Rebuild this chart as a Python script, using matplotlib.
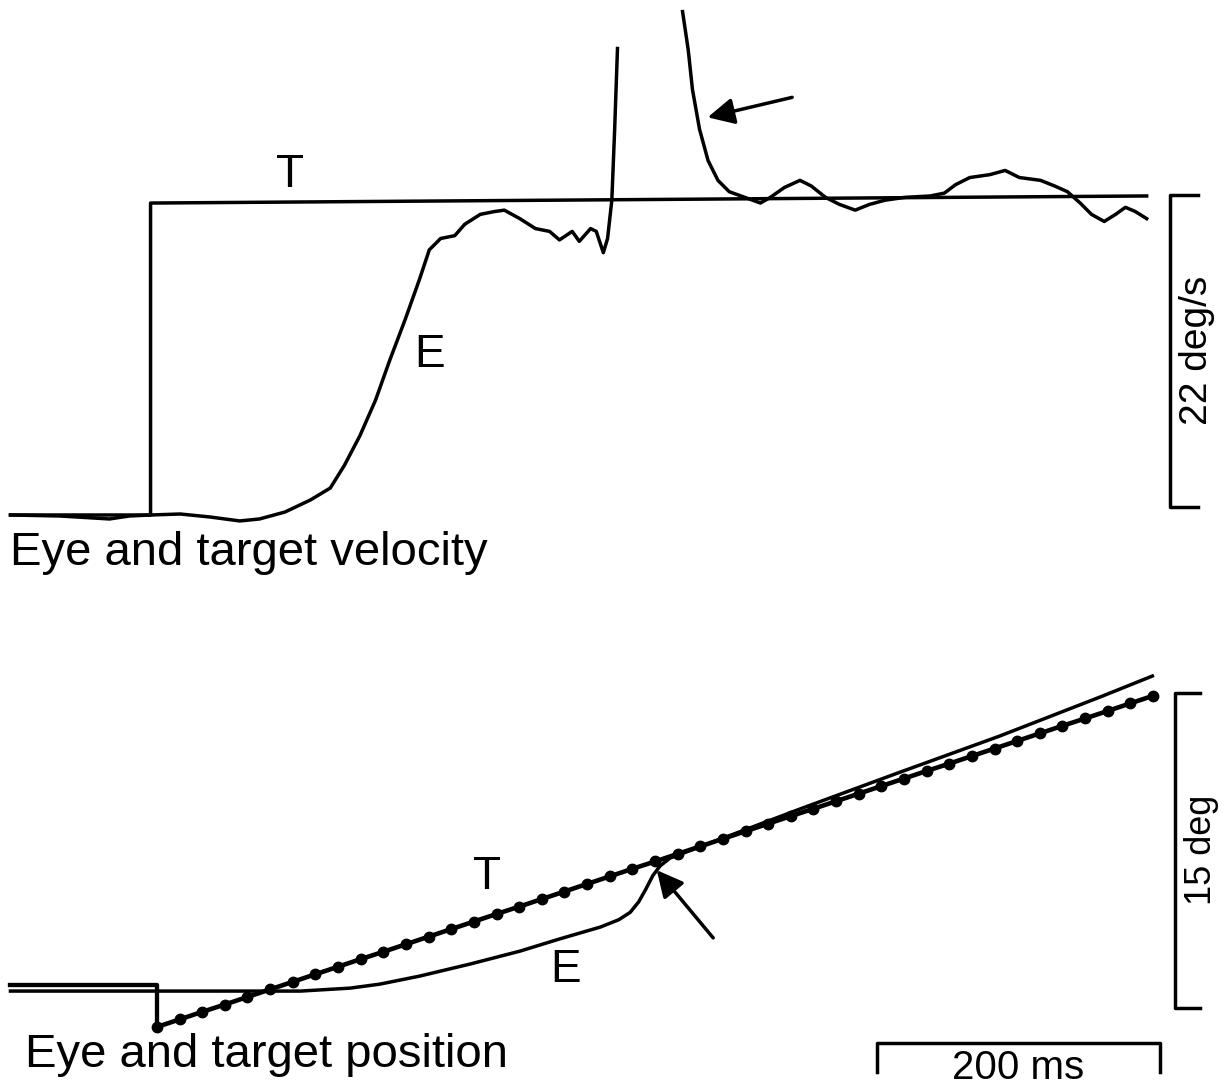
import numpy as np
import matplotlib
matplotlib.use("Agg")
import matplotlib.pyplot as plt

plt.rcParams["font.family"] = ["Liberation Sans", "DejaVu Sans"]

# ---- top panel: velocity (ms, deg/s) ----
target_vel_t = [-100, -1, -1, 703]
target_vel_v = [0.0, 0.0, 22.0, 22.5]

# eye velocity before the saccade
eye_vel_t1 = [-100, -65, -30, -16, -1, 20, 41, 62, 76, 94, 112, 126, 136, 147, 158, 168,
              179, 189, 196, 204, 214, 221, 232, 242, 249, 260, 271, 281, 288, 297, 302,
              310, 314, 319, 322, 325, 327, 329]
eye_vel_v1 = [0.0, -0.07, -0.28, -0.07, 0.0, 0.07, -0.14, -0.42, -0.28, 0.21, 1.06, 1.9,
              3.5, 5.6, 8.1, 10.9, 13.8, 16.6, 18.7, 19.5, 19.7, 20.5, 21.2, 21.4, 21.5,
              20.9, 20.2, 20.0, 19.4, 20.0, 19.3, 20.2, 20.0, 18.5, 19.5, 22.2, 27.2, 32.9]
# eye velocity after the saccade (off scale in between)
eye_vel_t2 = [375, 379, 382, 387, 393, 400, 408, 419, 430, 437, 447, 458, 466, 476, 486,
              497, 507, 518, 532, 550, 560, 568, 578, 592, 603, 613, 628, 638, 647, 656,
              664, 673, 681, 688, 695, 703]
eye_vel_v2 = [35.5, 32.8, 30.0, 27.2, 25.0, 23.6, 22.8, 22.4, 22.0, 22.4, 23.1, 23.6, 23.2,
              22.4, 21.9, 21.5, 21.9, 22.2, 22.4, 22.5, 22.7, 23.3, 23.8, 24.0, 24.3, 23.8,
              23.6, 23.2, 22.8, 22.0, 21.2, 20.7, 21.2, 21.7, 21.4, 20.9]

# ---- bottom panel: position (ms, deg) ----
target_pre_t = [-100, 3.5, 3.5]
target_pre_p = [0.3, 0.3, -1.71]
# sampled target ramp (one dot every 16 ms)
target_pos_t = [3.5, 19.5, 35.5, 51.5, 67.5, 83.5, 99.5, 115.5, 131.5, 147.5, 163.5,
                179.5, 195.5, 211.5, 227.5, 243.5, 259.5, 275.5, 291.5, 307.5, 323.5,
                339.5, 355.5, 371.5, 387.5, 403.5, 419.5, 435.5, 451.5, 467.5, 483.5,
                499.5, 515.5, 531.5, 547.5, 563.5, 579.5, 595.5, 611.5, 627.5, 643.5,
                659.5, 675.5, 691.5, 707.5]
target_pos_p = [-1.71, -1.35, -0.99, -0.64, -0.28, 0.08, 0.44, 0.80, 1.16, 1.52, 1.87,
                2.23, 2.59, 2.95, 3.31, 3.67, 4.02, 4.38, 4.74, 5.10, 5.46, 5.82, 6.17,
                6.53, 6.89, 7.25, 7.61, 7.97, 8.33, 8.68, 9.04, 9.40, 9.76, 10.12, 10.48,
                10.83, 11.19, 11.55, 11.91, 12.27, 12.63, 12.98, 13.34, 13.70, 14.06]

eye_pos_t = [-100, 3.5, 105, 140, 161, 189, 225, 260, 288, 317, 330, 338, 344, 349, 354,
             359, 366, 387, 458, 529, 599, 670, 707]
eye_pos_p = [0.0, 0.0, 0.0, 0.14, 0.33, 0.71, 1.29, 1.90, 2.48, 3.05, 3.40, 3.75, 4.25,
             4.85, 5.50, 5.95, 6.33, 6.86, 8.67, 10.43, 12.14, 14.0, 15.0]

LW = 2.5
FS_CAPTION = 34
FS_SCALE = 27
FS_LETTER = 33


def main():
    fig = plt.figure(figsize=(12.32, 10.86), dpi=100)

    # both axes cover the whole figure, each with its own units
    ax_v = fig.add_axes([0, 0, 1, 1])
    ax_p = fig.add_axes([0, 0, 1, 1])
    for ax in (ax_v, ax_p):
        ax.set_xlim(-107.4, 763.3)
        ax.axis("off")
        ax.patch.set_alpha(0)
    ax_v.set_ylim(-40.27, 36.32)
    ax_p.set_ylim(-4.52, 47.19)

    # velocity traces
    ax_v.plot(target_vel_t, target_vel_v, color="black", lw=LW)
    ax_v.plot(eye_vel_t1, eye_vel_v1, color="black", lw=LW)
    ax_v.plot(eye_vel_t2, eye_vel_v2, color="black", lw=LW)
    ax_v.text(97.5, 24.0, "T", fontsize=FS_LETTER, ha="center", va="center")
    ax_v.text(196.5, 11.3, "E", fontsize=FS_LETTER, ha="center", va="center")
    ax_v.text(-100.3, -2.7, "Eye and target velocity", fontsize=FS_CAPTION,
              ha="left", va="center")
    ax_v.annotate("", xy=(390.8, 28.0), xytext=(454.4, 29.5),
                  arrowprops=dict(arrowstyle="-|>", lw=LW, color="black",
                                  mutation_scale=40))

    # velocity scale bar
    ax_v.plot([739, 719.4, 719.4, 739], [22.56, 22.56, 0.56, 0.56], color="black", lw=LW)
    ax_v.text(738.5, 11.6, "22 deg/s", fontsize=FS_SCALE + 1, rotation=90,
              ha="center", va="center")

    # position traces
    ax_p.plot(target_pre_t, target_pre_p, color="black", lw=LW + 0.6)
    ax_p.plot(eye_pos_t, eye_pos_p, color="black", lw=LW)
    ax_p.plot(target_pos_t, target_pos_p, color="black", lw=LW + 0.8,
              marker="o", markersize=7.5)
    ax_p.text(237, 5.45, "T", fontsize=FS_LETTER, ha="center", va="center")
    ax_p.text(292, 1.0, "E", fontsize=FS_LETTER, ha="center", va="center")
    ax_p.text(-89.8, -3.05, "Eye and target position", fontsize=FS_CAPTION,
              ha="left", va="center")
    ax_p.annotate("", xy=(355.5, 5.86), xytext=(397.9, 2.43),
                  arrowprops=dict(arrowstyle="-|>", lw=LW, color="black",
                                  mutation_scale=40))

    # position and time scale bars
    ax_p.plot([740.6, 723, 723, 740.6], [14.19, 14.19, -0.81, -0.81], color="black", lw=LW)
    ax_p.text(741.5, 6.7, "15 deg", fontsize=FS_SCALE - 1, rotation=90,
              ha="center", va="center")
    ax_p.plot([512.4, 512.4, 712.4, 712.4], [-3.86, -2.48, -2.48, -3.86], color="black", lw=LW)
    ax_p.text(612, -3.68, "200 ms", fontsize=29, ha="center", va="center")

    fig.savefig("out.png", dpi=100, facecolor="white")


if __name__ == "__main__":
    main()
